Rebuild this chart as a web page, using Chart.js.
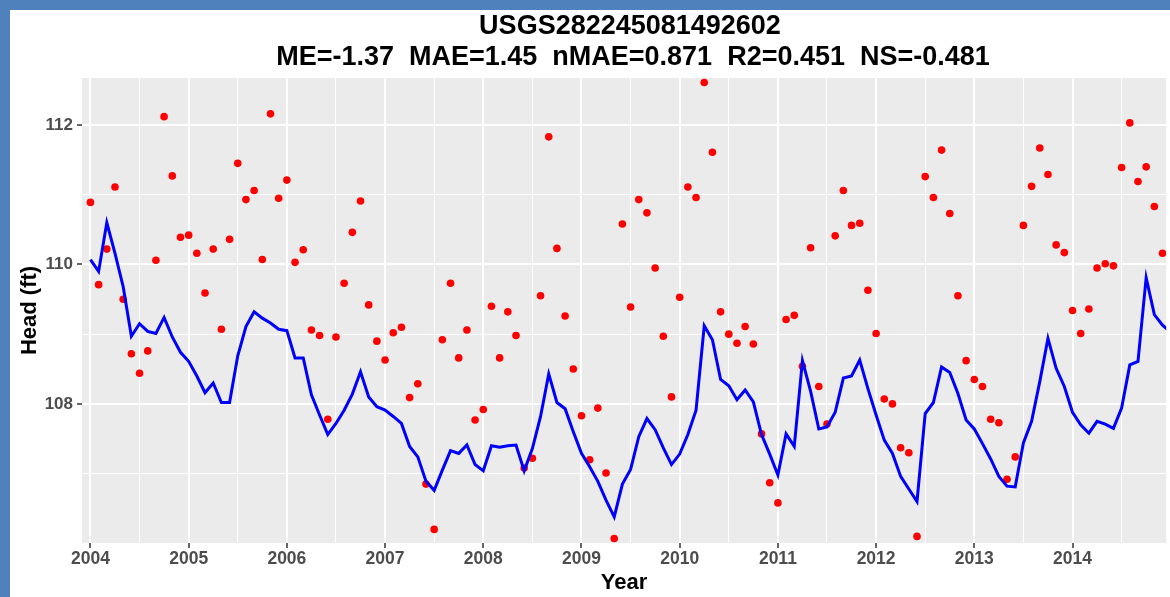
<!DOCTYPE html>
<html>
<head>
<meta charset="utf-8">
<script src="https://cdn.jsdelivr.net/npm/chart.js@4/dist/chart.umd.min.js"></script>
<style>
  html, body { margin: 0; padding: 0; background: #ffffff; overflow: hidden; }
  #wrap { width: 1170px; height: 597px; }
</style>
</head>
<body>
<div id="wrap"><canvas id="c" width="1170" height="597"></canvas></div>
<script>
// ---------------- data ----------------
const stationName = 'USGS282245081492602';
const statsLine = 'ME=-1.37  MAE=1.45  nMAE=0.871  R2=0.451  NS=-0.481';
const xTitle = 'Year';
const yTitle = 'Head (ft)';

const startYear = 2004;
const monthsPerYear = 12;

// simulated head (monthly, Jan 2004 .. Jan 2015)
const simulated = [
  110.07, 109.90, 110.60, 110.16, 109.68, 108.97, 109.15, 109.04, 109.01, 109.24, 108.96, 108.74,
  108.61, 108.40, 108.16, 108.30, 108.02, 108.02, 108.69, 109.11, 109.32, 109.23, 109.16, 109.07,
  109.05, 108.66, 108.66, 108.13, 107.84, 107.56, 107.72, 107.91, 108.14, 108.46, 108.10, 107.96,
  107.91, 107.82, 107.72, 107.39, 107.24, 106.89, 106.76, 107.05, 107.33, 107.29, 107.41, 107.13,
  107.04, 107.40, 107.38, 107.40, 107.41, 107.04, 107.36, 107.82, 108.43, 108.02, 107.93, 107.60,
  107.29, 107.10, 106.89, 106.62, 106.38, 106.85, 107.06, 107.53, 107.79, 107.63, 107.37, 107.13,
  107.28, 107.56, 107.91, 109.12, 108.92, 108.35, 108.26, 108.06, 108.20, 108.03, 107.56, 107.28,
  106.98, 107.57, 107.39, 108.62, 108.18, 107.64, 107.67, 107.88, 108.37, 108.40, 108.63, 108.22,
  107.84, 107.48, 107.29, 106.96, 106.78, 106.60, 107.86, 108.02, 108.53, 108.45, 108.15, 107.77,
  107.64, 107.43, 107.21, 106.96, 106.82, 106.81, 107.44, 107.75, 108.32, 108.94, 108.51, 108.25,
  107.88, 107.70, 107.58, 107.75, 107.71, 107.65, 107.94, 108.56, 108.61, 109.81, 109.28, 109.13,
  109.03
];

// observed head (monthly, Jan 2004 .. Dec 2014)
const observed = [
  110.89, 109.71, 110.22, 111.11, 109.50, 108.72, 108.44, 108.76, 110.06, 112.12, 111.27, 110.39,
  110.42, 110.16, 109.59, 110.22, 109.07, 110.36, 111.45, 110.93, 111.06, 110.07, 112.16, 110.95,
  111.21, 110.03, 110.21, 109.06, 108.98, 107.78, 108.96, 109.73, 110.46, 110.91, 109.42, 108.90,
  108.63, 109.02, 109.10, 108.09, 108.29, 106.85, 106.20, 108.92, 109.73, 108.66, 109.06, 107.77,
  107.92, 109.40, 108.66, 109.32, 108.98, 107.08, 107.22, 109.55, 111.83, 110.23, 109.26, 108.50,
  107.83, 107.20, 107.94, 107.01, 106.07, 110.58, 109.39, 110.93, 110.74, 109.95, 108.97, 108.10,
  109.53, 111.11, 110.96, 112.61, 111.61, 109.32, 109.00, 108.87, 109.11, 108.86, 107.57, 106.87,
  106.58, 109.21, 109.27, 108.54, 110.24, 108.25, 107.71, 110.41, 111.06, 110.56, 110.59, 109.63,
  109.01, 108.07, 108.00, 107.37, 107.30, 106.10, 111.26, 110.96, 111.64, 110.73, 109.55, 108.62,
  108.35, 108.25, 107.78, 107.73, 106.92, 107.24, 110.56, 111.12, 111.67, 111.29, 110.28, 110.17,
  109.34, 109.01, 109.36, 109.95, 110.01, 109.98, 111.39, 112.03, 111.19, 111.40, 110.83, 110.16
];

// axis ticks
const xTickYears = [2004, 2005, 2006, 2007, 2008, 2009, 2010, 2011, 2012, 2013, 2014];
const xMinorTicks = [2004.5, 2005.5, 2006.5, 2007.5, 2008.5, 2009.5, 2010.5, 2011.5, 2012.5, 2013.5, 2014.5];
const yTickValues = [108, 110, 112];
const yMinorTicks = [107, 109, 111];

// ---------------- build points ----------------
const timeOf = i => startYear + i / monthsPerYear;
const simPoints = simulated.map((v, i) => ({ x: timeOf(i), y: v }));
const obsPoints = observed.map((v, i) => ({ x: timeOf(i), y: v }));

const FONT = '"Liberation Sans", Arial, Helvetica, sans-serif';

const bgPlugin = {
  id: 'bg',
  beforeDraw(chart) {
    const { ctx, chartArea: a } = chart;
    ctx.save();
    ctx.fillStyle = '#ffffff';
    ctx.fillRect(0, 0, chart.width, chart.height);
    ctx.fillStyle = '#4F81BD';
    ctx.fillRect(0, 0, 10, chart.height);
    ctx.fillRect(0, 0, chart.width, 10);
    ctx.fillStyle = '#EBEBEB';
    ctx.fillRect(a.left, a.top, a.right - a.left, a.bottom - a.top);
    ctx.restore();
  },
  afterDraw(chart) {
    const { ctx } = chart;
    ctx.save();
    ctx.fillStyle = '#000000';
    ctx.font = 'bold 27px ' + FONT;
    ctx.textAlign = 'center';
    ctx.textBaseline = 'middle';
    ctx.fillText(stationName, 630, 27);
    ctx.fillText(statsLine, 633, 58);
    ctx.restore();
  }
};

const isIn = (arr, v) => arr.some(t => Math.abs(t - v) < 1e-6);

new Chart(document.getElementById('c'), {
  data: {
    datasets: [
      {
        type: 'line',
        label: 'Simulated',
        data: simPoints,
        borderColor: '#0000FF',
        borderWidth: 3,
        pointRadius: 0,
        tension: 0,
        fill: false,
        order: 0
      },
      {
        type: 'scatter',
        label: 'Observed',
        data: obsPoints,
        backgroundColor: '#FF0000',
        borderWidth: 0,
        pointRadius: 3.8,
        pointHoverRadius: 3.8,
        order: 1
      }
    ]
  },
  options: {
    responsive: false,
    animation: false,
    devicePixelRatio: 1,
    layout: { padding: { left: 13, top: 78, right: 0, bottom: 0 } },
    plugins: {
      legend: { display: false },
      title: { display: false },
      tooltip: { enabled: false }
    },
    scales: {
      x: {
        type: 'linear',
        min: 2003.914,
        max: 2014.954,
        afterBuildTicks: s => { s.ticks = xTickYears.concat(xMinorTicks).sort((a, b) => a - b).map(v => ({ value: v })); },
        afterFit: s => { s.height = 54; },
        border: { display: false },
        grid: {
          color: '#FFFFFF',
          lineWidth: c => (c.tick && isIn(xTickYears, c.tick.value)) ? 2 : 1,
          tickColor: c => (c.tick && isIn(xTickYears, c.tick.value)) ? '#333333' : 'rgba(0,0,0,0)',
          tickLength: 5,
          tickWidth: 1.5
        },
        ticks: {
          autoSkip: false,
          maxRotation: 0,
          padding: 1,
          color: '#4D4D4D',
          font: { family: FONT, size: 17.5, weight: 'bold' },
          callback: v => isIn(xTickYears, v) ? String(Math.round(v)) : ''
        },
        title: {
          display: true,
          text: xTitle,
          color: '#000000',
          font: { family: FONT, size: 22, weight: 'bold' },
          padding: { top: 0, bottom: 1 }
        }
      },
      y: {
        type: 'linear',
        min: 106.005,
        max: 112.674,
        afterBuildTicks: s => { s.ticks = yMinorTicks.concat(yTickValues).sort((a, b) => a - b).map(v => ({ value: v })); },
        afterFit: s => { s.width = 69; },
        border: { display: false },
        grid: {
          color: '#FFFFFF',
          lineWidth: c => (c.tick && isIn(yTickValues, c.tick.value)) ? 2 : 1,
          tickColor: c => (c.tick && isIn(yTickValues, c.tick.value)) ? '#333333' : 'rgba(0,0,0,0)',
          tickLength: 5,
          tickWidth: 1.5
        },
        ticks: {
          padding: 4,
          color: '#4D4D4D',
          font: { family: FONT, size: 17, weight: 'bold' },
          callback: v => isIn(yTickValues, v) ? String(v) : ''
        },
        title: {
          display: true,
          text: yTitle,
          color: '#000000',
          font: { family: FONT, size: 22, weight: 'bold' },
          padding: { top: 4, bottom: 0 }
        }
      }
    }
  },
  plugins: [bgPlugin]
});
</script>
</body>
</html>
